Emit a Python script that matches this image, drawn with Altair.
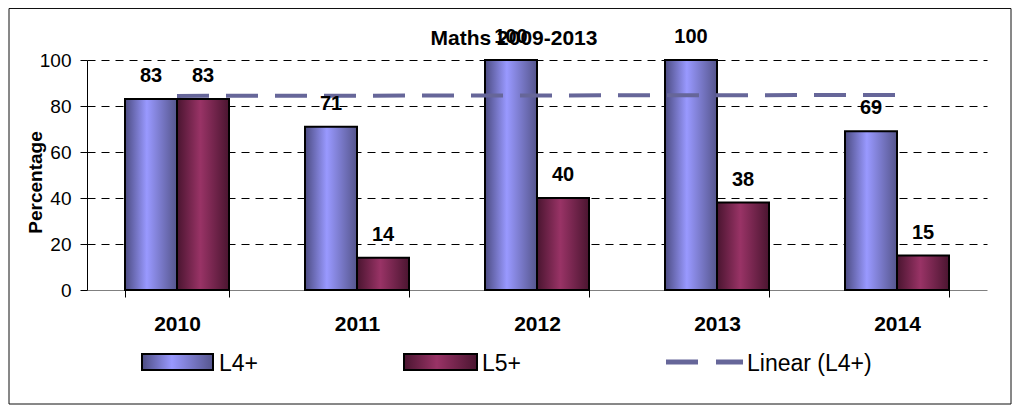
import altair as alt
import pandas as pd

years = ["2010", "2011", "2012", "2013", "2014"]
series_names = ["L4+", "L5+"]
l4_values = [83, 71, 100, 100, 69]
l5_values = [83, 14, 40, 38, 15]
trend_label = "Linear (L4+)"
chart_title = "Maths 2009-2013"
y_title = "Percentage"
y_ticks = [0, 20, 40, 60, 80, 100]

rows = []
for name, vals in zip(series_names, [l4_values, l5_values]):
    for yr, v in zip(years, vals):
        rows.append({"year": yr, "t": int(yr), "series": name, "value": v})
df = pd.DataFrame(rows)

FONT = "Liberation Sans"
W, H = 900, 230


def grad(dark, light, dark2, mid=0.42):
    return {"gradient": "linear", "x1": 0, "x2": 1, "y1": 0, "y2": 0,
            "stops": [{"offset": 0, "color": dark},
                      {"offset": mid, "color": light},
                      {"offset": 1, "color": dark2}]}


blue = grad("#4c4c82", "#9999ff", "#55558c")
red = grad("#4a1530", "#993366", "#4a1530", 0.45)
fills = {"L4+": blue, "L5+": red}

x_enc = alt.X(
    "year:N",
    title=None,
    scale=alt.Scale(domain=years, paddingInner=76 / 180, paddingOuter=38 / 180),
    axis=alt.Axis(labelFont=FONT, labelFontSize=21, labelFontWeight="bold",
                  labelColor="black", labelPadding=16, labelAngle=0,
                  tickBand="extent", tickSize=7, tickColor="black",
                  domainColor="#808080", domainWidth=1, grid=False),
)
y_enc = alt.Y(
    "value:Q",
    scale=alt.Scale(domain=[0, 100], nice=False),
    axis=alt.Axis(values=y_ticks, labelFont=FONT, labelFontSize=19,
                  labelColor="black", labelPadding=9, tickSize=7,
                  tickColor="black", domainColor="black",
                  grid=True, gridColor="black", gridDash=[8, 6],
                  gridOpacity=alt.condition("datum.value === 0", alt.value(0), alt.value(1)),
                  title=y_title, titleFont=FONT, titleFontSize=19,
                  titleFontWeight="bold", titleColor="black",
                  titleX=-46, titleY=122, titleAngle=270,
                  titleAlign="center", titleBaseline="alphabetic"),
)
xo = alt.XOffset("series:N", scale=alt.Scale(domain=series_names, paddingInner=0, paddingOuter=0))

base = alt.Chart(df)

bars = [
    base.transform_filter(alt.datum.series == n)
    .mark_bar(fill=fills[n], stroke="black", strokeWidth=2)
    .encode(x=x_enc, y=y_enc, xOffset=xo)
    for n in series_names
]

labels = base.mark_text(dy=-17, baseline="alphabetic", font=FONT, fontSize=20,
                        fontWeight="bold", color="black").encode(
    x=x_enc, y=y_enc, xOffset=xo, text=alt.Text("value:Q", format=".0f"))

trend = (
    base.transform_filter(alt.datum.series == series_names[0])
    .transform_regression("t", "value", method="linear")
    .transform_calculate(year="toString(datum.t)")
    .mark_line(color="#666699", strokeWidth=4, strokeDash=[32, 17])
    .encode(x=x_enc, y=y_enc)
)

one = alt.Data(values=[{}])

border = alt.Chart(one).mark_rect(fillOpacity=0, stroke="#111", strokeWidth=1).encode(
    x=alt.value(-78), x2=alt.value(924), y=alt.value(-51.5), y2=alt.value(344))

title = alt.Chart(alt.Data(values=[{"label": chart_title}])).mark_text(
    font=FONT, fontSize=21, fontWeight="bold", color="black",
    align="center", baseline="alphabetic").encode(
    x=alt.value(427), y=alt.value(-15.5), text=alt.Text("label:N"))

leg_layers = []
leg_swatch_x = [(55, 126), (317, 390)]
leg_text_x = [132, 395, 660]
for i, n in enumerate(series_names):
    leg_layers.append(
        alt.Chart(one).mark_rect(fill=fills[n], stroke="black", strokeWidth=2).encode(
            x=alt.value(leg_swatch_x[i][0]), x2=alt.value(leg_swatch_x[i][1]),
            y=alt.value(294), y2=alt.value(310)))
leg_layers.append(
    alt.Chart(one).mark_rule(color="#666699", strokeWidth=5, strokeDash=[32, 18]).encode(
        x=alt.value(579), x2=alt.value(656), y=alt.value(302)))
for i, lab in enumerate(series_names + [trend_label]):
    leg_layers.append(
        alt.Chart(alt.Data(values=[{"label": lab}])).mark_text(
            font=FONT, fontSize=23, color="black", align="left", baseline="alphabetic").encode(
            x=alt.value(leg_text_x[i]), y=alt.value(310.5), text=alt.Text("label:N")))

chart = alt.layer(border, *bars, trend, labels, title, *leg_layers).properties(
    width=W, height=H,
    autosize=alt.AutoSizeParams(type="none"),
    padding={"left": 79, "top": 52, "right": 26, "bottom": 115},
).configure_view(stroke=None)

chart.save("out.html", embed_options={"renderer": "svg", "actions": False})
